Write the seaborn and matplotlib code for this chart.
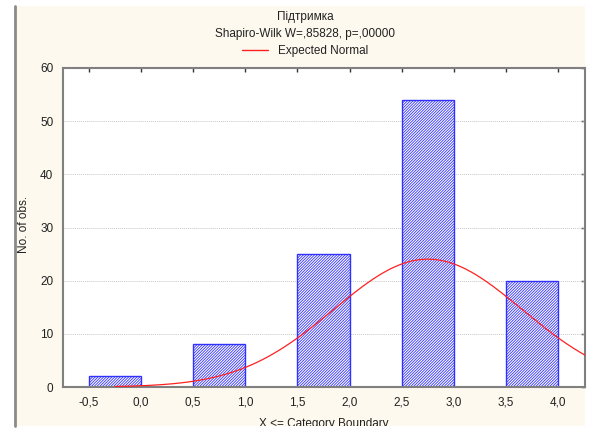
import numpy as np
import pandas as pd
import matplotlib
matplotlib.use("Agg")
import matplotlib.pyplot as plt
import seaborn as sns
from matplotlib.patches import Rectangle
from matplotlib.lines import Line2D
from matplotlib.transforms import Bbox

# ---- data ----
bin_left = [-0.5, 0.5, 1.5, 2.5, 3.5]
bin_right = [0.0, 1.0, 2.0, 3.0, 4.0]
category_values = [0, 1, 2, 3, 4]
counts = [2, 8, 25, 54, 20]
xtick_vals = [-0.5, 0.0, 0.5, 1.0, 1.5, 2.0, 2.5, 3.0, 3.5, 4.0]
xtick_labels = ["-0,5", "0,0", "0,5", "1,0", "1,5", "2,0", "2,5", "3,0", "3,5", "4,0"]
ytick_vals = [0, 10, 20, 30, 40, 50, 60]
title1 = "Підтримка"
title2 = "Shapiro-Wilk W=,85828, p=,00000"
legend_label = "Expected Normal"
bin_width = 0.5
curve_start = -0.25

sns.set_style("white")
plt.rcParams["font.family"] = ["Liberation Sans", "DejaVu Sans"]
plt.rcParams["hatch.linewidth"] = 0.6

# fitted normal (expected normal) from the category data
vals = np.repeat(category_values, counts)
n = len(vals)
mu = vals.mean()
sd = vals.std(ddof=1)

centers = [(a + b) / 2 for a, b in zip(bin_left, bin_right)]
df = pd.DataFrame({"x": centers, "count": counts})

fig = plt.figure(figsize=(5.96, 4.33), dpi=100)
fig.patch.set_facecolor("white")
# cream panel
fig.patches.append(Rectangle((15 / 596, 7 / 433), 570 / 596, 420 / 433, transform=fig.transFigure,
                             facecolor="#fdf9ef", edgecolor="none", zorder=-10))
fig.lines.append(Line2D([15 / 596, 15 / 596], [7 / 433, 427 / 433], transform=fig.transFigure,
                        color="#8a8a8a", linewidth=2))

ax = fig.add_axes([63 / 596, (433 - 387) / 433, (585 - 63) / 596, (387 - 68) / 433])
ax.set_facecolor("white")

sns.barplot(data=df, x="x", y="count", native_scale=True, width=bin_width,
            color="white", edgecolor="#3030ff", linewidth=1.0, hatch="////////////",
            ax=ax, zorder=2)

xs = np.linspace(curve_start, 4.4, 300)
ys = n * bin_width * np.exp(-0.5 * ((xs - mu) / sd) ** 2) / (sd * np.sqrt(2 * np.pi))
sns.lineplot(x=xs, y=ys, color="#ff2020", linewidth=0.9, ax=ax, zorder=3)

ax.set_xlim(-0.75, 4.26)
ax.set_ylim(0, 60)
ax.set_xticks(xtick_vals)
ax.set_xticklabels(xtick_labels, fontsize=8.5, color="#222222")
ax.set_yticks(ytick_vals)
ax.set_yticklabels([str(v) for v in ytick_vals], fontsize=8.5, color="#222222")
ax.tick_params(axis="both", which="both", bottom=False, left=False, top=True, right=True,
               direction="in", length=3, width=1, color="#333333", pad=7)
for y in ytick_vals[1:-1]:
    ax.axhline(y, color="#c8c8c8", linestyle=(0, (1, 1)), linewidth=0.7, zorder=1)
ax.grid(False)
for s in ax.spines.values():
    s.set_visible(True)
    s.set_color("#808080")
    s.set_linewidth(1.5)

ax.set_xlabel("X <= Category Boundary", fontsize=8.5, color="#222222")
ax.xaxis.set_label_coords(0.5, (387 - 424) / 319)
ax.xaxis.label.set_va("center")
ax.xaxis.label.set_clip_on(True)
ax.xaxis.label.set_clip_box(Bbox.from_extents(0, 7, 596, 433))
ax.set_ylabel("No. of obs.", fontsize=8.5, color="#222222")
ax.yaxis.set_label_coords((30 - 63) / 522, 0.51)

fig.text(305 / 596, 1 - 17 / 433, title1, ha="center", va="center", fontsize=8.5, color="#222222")
fig.text(305 / 596, 1 - 34 / 433, title2, ha="center", va="center", fontsize=8.5, color="#222222")
h = Line2D([], [], color="#ff2020", linewidth=1)
fig.legend([h], [legend_label], loc="center", bbox_to_anchor=(305 / 596, 1 - 51 / 433),
           frameon=False, fontsize=8.5, handlelength=2.2, handletextpad=0.8,
           borderpad=0, labelcolor="#222222")
if ax.get_legend():
    ax.get_legend().remove()

fig.savefig("out.png", dpi=100)
